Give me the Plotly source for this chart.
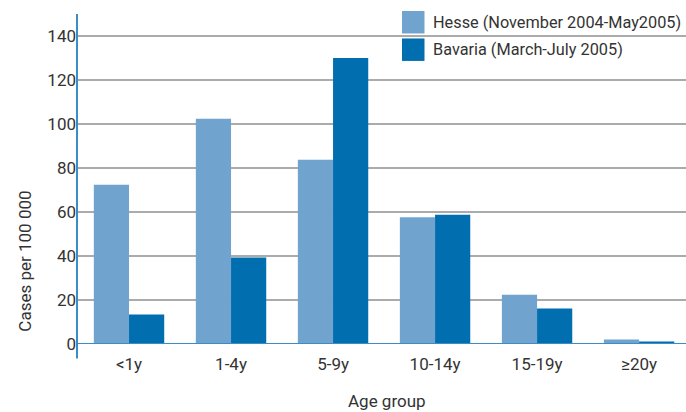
import plotly.graph_objects as go

categories = ["<1y", "1-4y", "5-9y", "10-14y", "15-19y", "≥20y"]
hesse = [72.3, 102.2, 83.6, 57.5, 22.4, 2.0]
bavaria = [13.4, 39.3, 129.8, 58.7, 16.1, 1.1]
series_names = ["Hesse (November 2004-May2005)", "Bavaria (March-July 2005)"]
y_ticks = [0, 20, 40, 60, 80, 100, 120, 140]

c_light = "#70A4CF"
c_dark = "#006EAF"
axis_blue = "#3A8DC6"
txt = "#333333"
FONT = "Roboto"
FS = 17

fig = go.Figure()
fig.add_trace(go.Bar(x=categories, y=hesse, name=series_names[0], marker_color=c_light,
                     marker_line_width=0, showlegend=False))
fig.add_trace(go.Bar(x=categories, y=bavaria, name=series_names[1], marker_color=c_dark,
                     marker_line_width=0, showlegend=False))

W, H = 686, 412
ml, mr, mt, mb = 77, 0, 14, 412 - 344.5
ph = H - mt - mb

fig.update_layout(
    width=W, height=H,
    margin=dict(l=ml, r=mr, t=mt, b=mb, pad=0),
    paper_bgcolor="white", plot_bgcolor="white",
    barmode="group", bargap=0.31, bargroupgap=0,
    font=dict(family=FONT, size=FS, color=txt),
    xaxis=dict(range=[-0.51, 5.46], showgrid=False, showline=False, zeroline=False,
               ticks="outside", ticklen=5, tickcolor="rgba(0,0,0,0)",
               tickfont=dict(family=FONT, size=FS, color=txt)),
    yaxis=dict(range=[0, 149.8], tickvals=y_ticks, showgrid=True, gridcolor="#ababab",
               gridwidth=1.5, zeroline=False, showline=False,
               ticks="", automargin=False,
               tickfont=dict(family=FONT, size=FS, color=txt)),
    showlegend=False,
)

# axis lines
fig.add_shape(type="line", xref="paper", yref="paper", x0=0, x1=0,
              y0=-(359 - 344.5) / ph, y1=1, line=dict(color=axis_blue, width=2))
fig.add_shape(type="line", xref="paper", yref="y", x0=0, x1=1, y0=0, y1=0,
              line=dict(color=axis_blue, width=2), layer="above")

# axis titles
fig.add_annotation(text="Cases per 100 000", xref="paper", yref="paper",
                   x=(25 - ml) / (W - ml), y=(H - mb - 261) / ph, textangle=-90,
                   showarrow=False, font=dict(family=FONT, size=FS, color=txt),
                   xanchor="center", yanchor="middle")
fig.add_annotation(text="Age group", xref="paper", yref="paper",
                   x=(387 - ml) / (W - ml), y=-(402 - 344.5) / ph,
                   showarrow=False, font=dict(family=FONT, size=FS, color=txt),
                   xanchor="center", yanchor="middle")

# custom legend
px_to_x = lambda p: (p - ml) / (W - ml)
px_to_y = lambda p: (H - mb - p) / ph
for i, (name, col) in enumerate(zip(series_names, [c_light, c_dark])):
    top = 11 + i * 27.5
    fig.add_shape(type="rect", xref="paper", yref="paper",
                  x0=px_to_x(402), x1=px_to_x(424.5), y0=px_to_y(top + 22.5), y1=px_to_y(top),
                  fillcolor=col, line_width=0)
    fig.add_annotation(text=name, xref="paper", yref="paper", x=px_to_x(431),
                       y=px_to_y(top + 11.5), xanchor="left", yanchor="middle",
                       showarrow=False, font=dict(family=FONT, size=16.3, color=txt))

fig.write_html("out.html", config={"displayModeBar": False},
               post_script="document.body.style.margin='0';document.body.style.padding='0';")
